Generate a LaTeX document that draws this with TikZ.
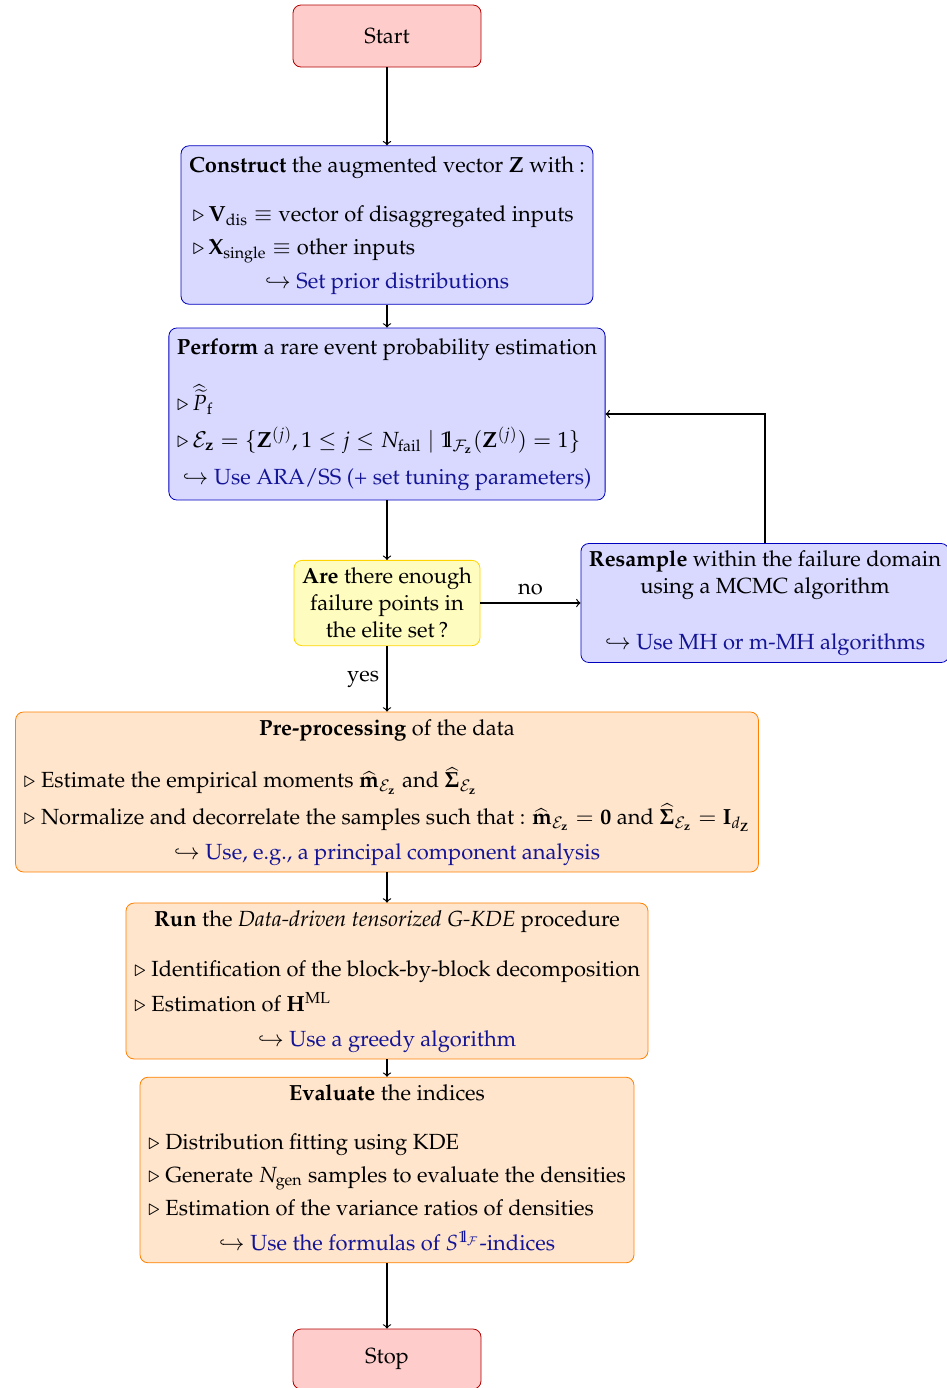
\documentclass[11pt,tikz,border=0pt]{standalone}
\usepackage[T1]{fontenc}
\usepackage{mathpazo}
\usepackage{amsmath,amssymb}
\usetikzlibrary{arrows,shapes}
\definecolor{linkblue}{RGB}{20,20,150}
\definecolor{goldline}{RGB}{255,212,0}
\tikzstyle{startstop}=[rectangle,rounded corners=4pt,draw=red!70!black,fill=red!20,thin,minimum width=94pt]
\tikzstyle{blockblue}=[rectangle,rounded corners=4pt,draw=blue!75!black,fill=blue!15,thin,inner xsep=4pt]
\tikzstyle{question}=[rectangle,rounded corners=4pt,draw=goldline,fill=yellow!25,thin,align=center,inner xsep=4pt]
\tikzstyle{blockorange}=[rectangle,rounded corners=4pt,draw=orange,fill=orange!20,thin,inner xsep=4pt,inner ysep=2pt]
\newcommand{\ctr}[1]{\multicolumn{1}{@{}c@{}}{#1}}
\newcommand{\tip}[1]{$\hookrightarrow$ \textcolor{linkblue}{#1}}
\newcommand{\indic}{\mathrm{1\mkern-4.5mu l}}

\begin{document}
\begin{tikzpicture}[x=0.5pt,y=-0.5pt,>=to,semithick]
  \useasboundingbox (0,0) rectangle (947,1388);
  % main column, node distance = 94.5pt
  \node[startstop,minimum height=31pt] (start) at (387,36) {Start};
  \node[blockblue,below of=start,node distance=94.5pt,minimum height=77pt] (construct){%
    \begin{tabular}{@{}l@{}}
      \ctr{\textbf{Construct} the augmented vector $\mathbf{Z}$ with :}\\[11pt]
      \,$\triangleright\,\mathbf{V}_{\mathrm{dis}}\equiv{}$vector of disaggregated inputs\\[3pt]
      \,$\triangleright\,\mathbf{X}_{\mathrm{single}}\equiv{}$other inputs\\[3.5pt]
      \ctr{\tip{Set prior distributions}}
    \end{tabular}};
  \node[blockblue,below of=construct,node distance=94.5pt,minimum height=83pt] (perform){%
    \begin{tabular}{@{}l@{}}
      \ctr{\textbf{Perform} a rare event probability estimation}\\[11pt]
      $\triangleright\,\widehat{\widetilde{P}}_{\mathrm{f}}$\\[4pt]
      $\triangleright\,\mathcal{E}_{\mathbf{z}}=\{\mathbf{Z}^{(j)},1\leq j\leq N_{\mathrm{fail}}\mid\indic_{\mathcal{F}_{\mathbf{z}}}(\mathbf{Z}^{(j)})=1\}$\\[5pt]
      \ctr{\tip{Use ARA/SS (+ set tuning parameters)}}
    \end{tabular}};
  \node[question,below of=perform,node distance=94.5pt,minimum width=93pt,minimum height=41.5pt] (enough)
    {\textbf{Are} there enough\\failure points in\\the elite set\,?};
  \node[blockblue,right of=enough,node distance=189pt,minimum height=57.5pt,align=center] (resample)
    {\textbf{Resample} within the failure domain\\using a MCMC algorithm\\[14pt]\tip{Use MH or m-MH algorithms}};
  \node[blockorange,below of=enough,node distance=94.5pt,minimum height=80pt] (preproc){%
    \begin{tabular}{@{}l@{}}
      \ctr{\textbf{Pre-processing} of the data}\\[12pt]
      $\triangleright$ Estimate the empirical moments $\widehat{\mathbf{m}}_{\mathcal{E}_{\mathbf{z}}}$ and $\widehat{\mathbf{\Sigma}}_{\mathcal{E}_{\mathbf{z}}}$\\[4pt]
      $\triangleright$ Normalize and decorrelate the samples such that : $\widehat{\mathbf{m}}_{\mathcal{E}_{\mathbf{z}}}=\mathbf{0}$ and $\widehat{\mathbf{\Sigma}}_{\mathcal{E}_{\mathbf{z}}}=\mathbf{I}_{d_{\mathbf{Z}}}$\\[4pt]
      \ctr{\tip{Use, e.g., a principal component analysis}}
    \end{tabular}};
  \node[blockorange,below of=preproc,node distance=94.5pt,minimum height=77.5pt] (rungkde){%
    \begin{tabular}{@{}l@{}}
      \ctr{\textbf{Run} the \textit{Data-driven tensorized G-KDE} procedure}\\[11.5pt]
      $\triangleright$ Identification of the block-by-block decomposition\\[4pt]
      $\triangleright$ Estimation of $\mathbf{H}^{\mathrm{ML}}$\\[4pt]
      \ctr{\tip{Use a greedy algorithm}}
    \end{tabular}};
  \node[blockorange,below of=rungkde,node distance=94.5pt,minimum height=91.5pt] (evaluate){%
    \begin{tabular}{@{}l@{}}
      \ctr{\textbf{Evaluate} the indices}\\[11pt]
      $\triangleright$ Distribution fitting using KDE\\[3pt]
      $\triangleright$ Generate $N_{\mathrm{gen}}$ samples to evaluate the densities\\[3pt]
      $\triangleright$ Estimation of the variance ratios of densities\\[3.5pt]
      \ctr{\tip{Use the formulas of $S^{\indic_{\mathcal{F}}}$-indices}}
    \end{tabular}};
  \node[startstop,below of=evaluate,node distance=94.5pt,minimum height=30pt] (stop){Stop};
  \draw[->] (start)--(construct);
  \draw[->] (construct)--(perform);
  \draw[->] (perform)--(enough);
  \draw[->] (enough)--node[above]{no}(resample);
  \draw[->] (resample.north)|-(perform.east);
  \draw[->] (enough)--node[left]{yes}(preproc);
  \draw[->] (preproc)--(rungkde);
  \draw[->] (rungkde)--(evaluate);
  \draw[->] (evaluate)--(stop);
\end{tikzpicture}
\end{document}
